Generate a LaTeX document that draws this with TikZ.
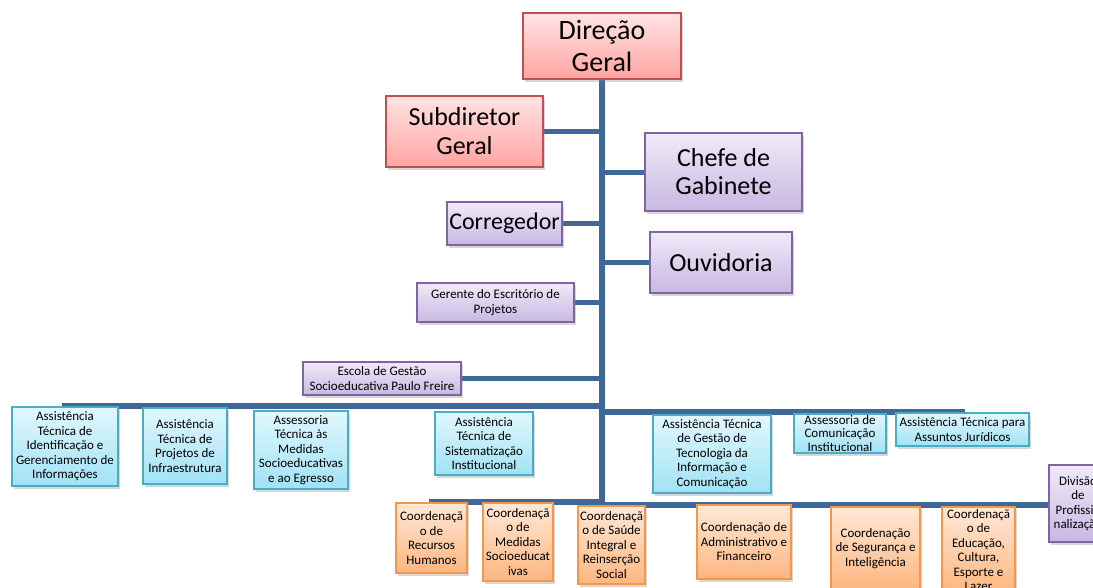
\documentclass[tikz,border=0pt]{standalone}
\usepackage{fontspec}
\setmainfont{Carlito}
\usetikzlibrary{shadows}
\definecolor{linkblue}{RGB}{63,103,151}
\definecolor{redline}{RGB}{192,80,77}
\definecolor{redtop}{RGB}{255,228,228}
\definecolor{redbot}{RGB}{255,164,162}
\definecolor{purline}{RGB}{128,100,162}
\definecolor{purtop}{RGB}{240,234,248}
\definecolor{purbot}{RGB}{200,184,226}
\definecolor{cyanline}{RGB}{75,172,198}
\definecolor{cyantop}{RGB}{226,247,253}
\definecolor{cyanbot}{RGB}{160,226,245}
\definecolor{orgline}{RGB}{247,150,70}
\definecolor{orgtop}{RGB}{255,232,214}
\definecolor{orgbot}{RGB}{253,182,128}
\pgfdeclarelayer{background}
\pgfsetlayers{background,main}
\tikzset{
  box/.style={draw, line width=1.4pt, align=center, inner sep=0pt,
    drop shadow={shadow xshift=1.5pt, shadow yshift=-3pt, fill=black!45, opacity=0.35}},
  redbox/.style={box, draw=redline, top color=redtop, bottom color=redbot},
  purbox/.style={box, draw=purline, top color=purtop, bottom color=purbot},
  cyanbox/.style={box, draw=cyanline, top color=cyantop, bottom color=cyanbot},
  orgbox/.style={box, draw=orgline, top color=orgtop, bottom color=orgbot},
  small/.style={font=\fontsize{13}{14.5}\selectfont},
  link/.style={draw=linkblue, line width=5pt},
  trunk/.style={draw=linkblue, line width=5.5pt},
}
\begin{document}
\begin{tikzpicture}[x=1pt,y=-1pt]
\useasboundingbox (0,0) rectangle (1093,587);
% top level
\node[redbox, minimum width=158pt, minimum height=66pt, font=\fontsize{28}{32}\selectfont] (dg) at (602,46) {Direção\\Geral};
\node[redbox, minimum width=157pt, minimum height=71pt, font=\fontsize{26}{29}\selectfont] (sub) at (464.5,131.5) {Subdiretor\\Geral};
\node[purbox, minimum width=157pt, minimum height=78pt, font=\fontsize{26}{28}\selectfont] (chefe) at (723.5,172) {Chefe de\\Gabinete};
\node[purbox, minimum width=115pt, minimum height=43pt, font=\fontsize{24}{28}\selectfont] (corr) at (504.5,223.5) {Corregedor};
\node[purbox, minimum width=142pt, minimum height=61pt, font=\fontsize{26}{29}\selectfont] (ouv) at (721,262.5) {Ouvidoria};
\node[purbox, small, minimum width=157pt, minimum height=39pt] (ger) at (495.5,302.5) {Gerente do Escritório de\\Projetos};
\node[purbox, small, minimum width=158pt, minimum height=33pt] (esc) at (382,378.5) {Escola de Gestão\\Socioeducativa Paulo Freire};
% cyan row
\node[cyanbox, small, minimum width=106pt, minimum height=79pt] (c1) at (65,446.5) {Assistência\\Técnica de\\Identificação e\\Gerenciamento de\\Informações};
\node[cyanbox, small, minimum width=84pt, minimum height=76pt] (c2) at (185,446) {Assistência\\Técnica de\\Projetos de\\Infraestrutura};
\node[cyanbox, small, minimum width=94pt, minimum height=78pt] (c3) at (301,450) {Assessoria\\Técnica às\\Medidas\\Socioeducativas\\e ao Egresso};
\node[cyanbox, small, minimum width=98pt, minimum height=63pt] (c4) at (484,443.5) {Assistência\\Técnica de\\Sistematização\\Institucional};
\node[cyanbox, small, minimum width=118pt, minimum height=78pt] (c5) at (712,454) {Assistência Técnica\\de Gestão de\\Tecnologia da\\Informação e\\Comunicação};
\node[cyanbox, font=\fontsize{13}{13.5}\selectfont, minimum width=92pt, minimum height=39pt] (c6) at (840,433.5) {Assessoria de\\Comunicação\\Institucional};
\node[cyanbox, small, minimum width=133pt, minimum height=33pt] (c7) at (962.5,429.5) {Assistência Técnica para\\Assuntos Jurídicos};
% orange row
\node[orgbox, small, minimum width=71pt, minimum height=70pt] (o1) at (431.5,538) {Coordenaçã\\o de\\Recursos\\Humanos};
\node[orgbox, small, minimum width=70pt, minimum height=78pt] (o2) at (518,542) {Coordenaçã\\o de\\Medidas\\Socioeducat\\ivas};
\node[orgbox, small, minimum width=67pt, minimum height=78pt] (o3) at (611.5,545) {Coordenaçã\\o de Saúde\\Integral e\\Reinserção\\Social};
\node[orgbox, small, minimum width=94pt, minimum height=74pt] (o4) at (744,542) {Coordenação de\\Administrativo e\\Financeiro};
\node[orgbox, small, minimum width=89pt, minimum height=83pt] (o5) at (875.5,548.5) {Coordenação\\de Segurança e\\Inteligência};
\node[orgbox, small, minimum width=73pt, minimum height=86pt] (o6) at (978.5,550) {Coordenaçã\\o de\\Educação,\\Cultura,\\Esporte e\\Lazer};
\node[purbox, small, minimum width=58pt, minimum height=77pt] (div) at (1078,503.5) {Divisão\\de\\Profissio\\nalização};
% bar end points
\coordinate (b1L) at (62,406);
\coordinate (b1R) at (965,412);
\coordinate (b2L) at (429,502);
\coordinate (b2R) at (1049,505);
\coordinate (tend) at (602,507);
\begin{pgfonlayer}{background}
\draw[trunk] (dg.south) -- (tend);
\draw[link] (sub.east) -- (sub.east -| dg.south);
\draw[link] (chefe.west) -- (chefe.west -| dg.south);
\draw[link] (corr.east) -- (corr.east -| dg.south);
\draw[link] (ouv.west) -- (ouv.west -| dg.south);
\draw[link] (ger.east) -- (ger.east -| dg.south);
\draw[link] (esc.east) -- (esc.east -| dg.south);
\draw[trunk] (b1L) -- (b1L -| dg.south);
\draw[trunk] (b1R -| dg.south) -- (b1R);
\draw[trunk] (b2L) -- (b2L -| dg.south);
\draw[trunk] (b2R -| dg.south) -- (b2R);
\end{pgfonlayer}
\end{tikzpicture}
\end{document}
